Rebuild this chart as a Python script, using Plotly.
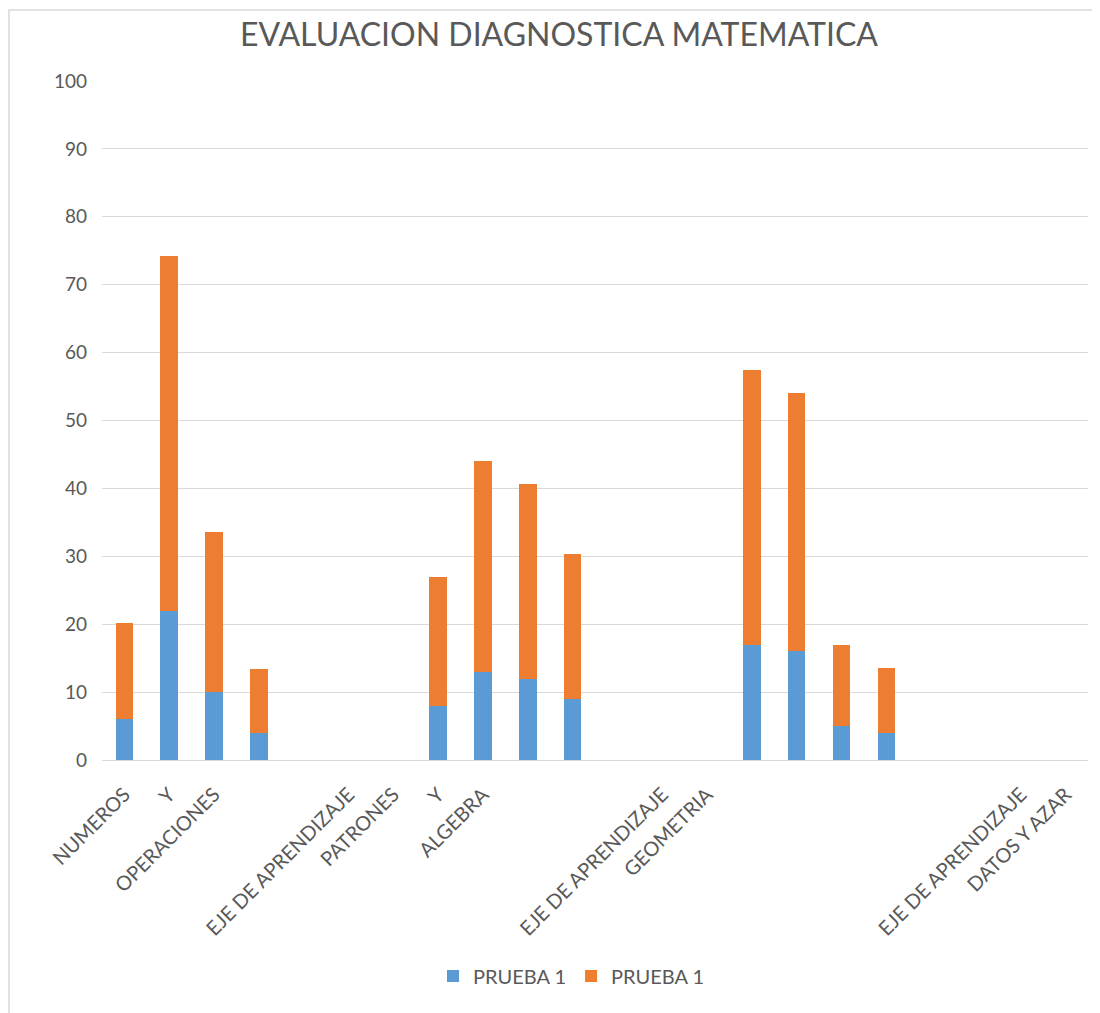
import plotly.graph_objects as go

categories = ["NUMEROS", "Y", "OPERACIONES", "", "", "EJE DE APRENDIZAJE", "PATRONES", "Y", "ALGEBRA",
              "", "", "", "EJE DE APRENDIZAJE", "GEOMETRIA", "", "", "", "", "", "", "EJE DE APRENDIZAJE", "DATOS Y AZAR"]
prueba1_a = [6, 22, 10, 4, None, None, None, 8, 13, 12, 9, None, None, None, 17, 16, 5, 4, None, None, None, None]
prueba1_b = [14.2, 52.2, 23.6, 9.4, None, None, None, 19.0, 31.0, 28.6, 21.4, None, None, None, 40.4, 38.0, 11.9, 9.5, None, None, None, None]
y_ticks = [0, 10, 20, 30, 40, 50, 60, 70, 80, 90, 100]

x = list(range(len(categories)))
FONT = "Lato, Liberation Sans, sans-serif"
GREY = "#595959"

# page is offset by 8px (body margin); layout numbers below are in figure pixels
L, T, R, B = 94, 73, 20, 261
PW, PH = 1100 - L - R, 1013 - T - B

fig = go.Figure()
fig.add_trace(go.Bar(x=x, y=prueba1_a, name="PRUEBA 1", marker_color="#5b9bd5", marker_line_width=0))
fig.add_trace(go.Bar(x=x, y=prueba1_b, name="PRUEBA 1 ", marker_color="#ed7d31", marker_line_width=0))

fig.update_layout(
    barmode="stack",
    bargap=0.61,
    width=1100, height=1013,
    margin=dict(l=L, r=R, t=T, b=B),
    paper_bgcolor="white", plot_bgcolor="white",
    font=dict(family=FONT, color=GREY, size=16),
    title=dict(text="EVALUACION DIAGNOSTICA MATEMATICA", x=551 / 1100, xanchor="center",
               y=1 - 27 / 1013, yanchor="middle", font=dict(size=32, color=GREY, family=FONT)),
    legend=dict(orientation="h", x=(566 - L) / PW, xanchor="center", y=(PH + T - 968) / PH, yanchor="middle",
                font=dict(size=20, color=GREY), traceorder="normal"),
    xaxis=dict(tickmode="array", tickvals=x, ticktext=categories, tickangle=-45,
               range=[-0.5, len(categories) - 0.5], showgrid=False, zeroline=False,
               showline=True, linecolor="#d9d9d9", linewidth=1, ticks="",
               tickfont=dict(size=20, color=GREY), ticklabelstandoff=14),
    yaxis=dict(range=[0, 100], tickvals=y_ticks, showgrid=True, gridcolor="#d9d9d9", gridwidth=1,
               zeroline=False, showline=False, ticks="", tickfont=dict(size=19, color=GREY),
               ticklabelstandoff=14),
    shapes=[dict(type="rect", xref="paper", yref="paper",
                 x0=(1 - L) / PW, x1=(1110 - L) / PW,
                 y0=(PH + T - 1030) / PH, y1=(PH + T - 2) / PH,
                 line=dict(color="#d9d9d9", width=1.5), fillcolor="rgba(0,0,0,0)", layer="below")],
)

fig.write_html("out.html")
